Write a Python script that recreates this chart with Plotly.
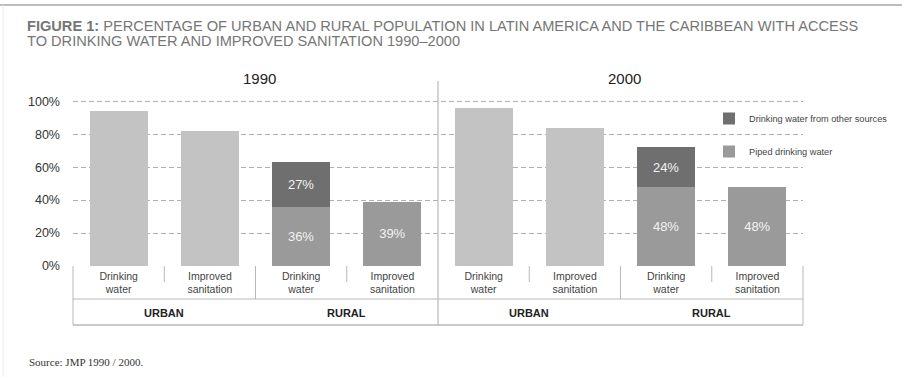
import plotly.graph_objects as go

# ---- data (percent of population) ----
years = ["1990", "2000"]
areas = ["URBAN", "RURAL"]
service_labels = ["Drinking<br>water", "Improved<br>sanitation"]

urban_water = [94, 96]
urban_sanitation = [82, 84]
rural_piped_water = [36, 48]
rural_other_water = [27, 24]
rural_sanitation = [39, 48]

y_ticks = [0, 20, 40, 60, 80, 100]
y_tick_labels = [f"{v}%" for v in y_ticks]

# category slot: year block of 4, area block of 2, service
def slot(year_i, area_i, service_i):
    return year_i * 4 + area_i * 2 + service_i

# ---- colours ----
C_URBAN = "#c3c3c3"
C_PIPED = "#9a9a9a"
C_OTHER = "#6f6f6f"
C_GRID = "#b0b0b0"
C_LINE = "#b8b8b8"

# ---- page geometry (pixels) ----
W, H = 902, 377
L, R, T, B = 73, 99, 93, 111
PW, PH = W - L - R, H - T - B


def py(pix):
    """paper y from a pixel row"""
    return (H - B - pix) / PH


def px(pix):
    """paper x from a pixel column"""
    return (pix - L) / PW


BAR_W = 0.635
fig = go.Figure()

# urban bars
ux, uy = [], []
for i in range(len(years)):
    ux += [slot(i, 0, 0), slot(i, 0, 1)]
    uy += [urban_water[i], urban_sanitation[i]]
fig.add_trace(go.Bar(x=ux, y=uy, width=BAR_W, marker=dict(color=C_URBAN, line=dict(width=0)),
                     showlegend=False, hoverinfo="y"))

value_font = dict(color="#f2f2f2", size=13, family="Liberation Sans, Arial")

# rural piped drinking water (lower stack)
fig.add_trace(go.Bar(
    x=[slot(i, 1, 0) for i in range(len(years))], y=rural_piped_water, width=BAR_W,
    name="Piped drinking water", legendgroup="piped", legendrank=2,
    marker=dict(color=C_PIPED, line=dict(width=0)),
    text=[f"{v}%" for v in rural_piped_water], textposition="inside",
    insidetextanchor="middle", textangle=0, textfont=value_font))

# rural drinking water from other sources (upper stack)
fig.add_trace(go.Bar(
    x=[slot(i, 1, 0) for i in range(len(years))], y=rural_other_water, width=BAR_W,
    name="Drinking water from other sources", legendgroup="other", legendrank=1,
    marker=dict(color=C_OTHER, line=dict(width=0)),
    text=[f"{v}%" for v in rural_other_water], textposition="inside",
    insidetextanchor="middle", textangle=0, textfont=value_font))

# rural improved sanitation
fig.add_trace(go.Bar(
    x=[slot(i, 1, 1) for i in range(len(years))], y=rural_sanitation, width=BAR_W,
    showlegend=False, marker=dict(color=C_PIPED, line=dict(width=0)),
    text=[f"{v}%" for v in rural_sanitation], textposition="inside",
    insidetextanchor="middle", textangle=0, textfont=value_font))

n_slots = 4 * len(years)
tickvals = list(range(n_slots))
ticktext = [service_labels[k % 2] for k in tickvals]

shapes = []
annotations = []

# top frame line
shapes.append(dict(type="line", xref="paper", yref="paper", x0=px(0), x1=px(W),
                   y0=py(5), y1=py(5), line=dict(color="#bdbdbd", width=2), layer="above"))
shapes.append(dict(type="line", xref="paper", yref="paper", x0=px(3), x1=px(3),
                   y0=py(5), y1=py(H), line=dict(color="#ececec", width=1), layer="above"))

# table under the axis
row1_bottom = py(299)
row2_bottom = py(325)
shapes += [
    dict(type="line", xref="paper", yref="paper", x0=0, x1=1, y0=row1_bottom, y1=row1_bottom,
         line=dict(color=C_LINE, width=1)),
    dict(type="line", xref="paper", yref="paper", x0=0, x1=1, y0=row2_bottom, y1=row2_bottom,
         line=dict(color=C_LINE, width=1.5)),
    dict(type="line", xref="paper", yref="paper", x0=0, x1=0, y0=0, y1=row2_bottom,
         line=dict(color=C_LINE, width=1)),
    dict(type="line", xref="paper", yref="paper", x0=1, x1=1, y0=0, y1=row2_bottom,
         line=dict(color=C_LINE, width=1)),
]
for i in range(len(years)):
    for a in range(len(areas)):
        # short divider between the two services
        xs = slot(i, a, 0) + 0.5
        shapes.append(dict(type="line", xref="x", yref="paper", x0=xs, x1=xs,
                           y0=0, y1=py(282), line=dict(color=C_LINE, width=1)))
    # full divider between urban and rural (service row only)
    xa = slot(i, 1, 0) - 0.5
    shapes.append(dict(type="line", xref="x", yref="paper", x0=xa, x1=xa,
                       y0=0, y1=row1_bottom, line=dict(color=C_LINE, width=1)))
# year divider
for i in range(1, len(years)):
    xd = slot(i, 0, 0) - 0.5
    shapes.append(dict(type="line", xref="x", yref="paper", x0=xd, x1=xd,
                       y0=py(81), y1=row2_bottom, line=dict(color=C_LINE, width=1.2)))

# area labels and year headings
for i, yr in enumerate(years):
    annotations.append(dict(text=yr, xref="x", yref="paper", x=slot(i, 0, 0) + 1.5, xshift=4,
                            y=py(78), showarrow=False, xanchor="center", yanchor="middle",
                            font=dict(size=15, color="#222", family="Liberation Sans, Arial")))
    for a, area in enumerate(areas):
        annotations.append(dict(text=f"<b>{area}</b>", xref="x", yref="paper",
                                x=slot(i, a, 0) + 0.5, y=py(312.5), showarrow=False,
                                xanchor="center", yanchor="middle",
                                font=dict(size=11, color="#222", family="Liberation Sans, Arial")))

# figure title
TITLE_C = "#767676"
TITLE_FONT = dict(size=14.6, color=TITLE_C, family="Liberation Sans, Arial")
annotations.append(dict(
    text="<b>FIGURE 1:</b> PERCENTAGE OF URBAN AND RURAL POPULATION IN LATIN AMERICA AND THE CARIBBEAN WITH ACCESS",
    xref="paper", yref="paper", x=px(25), y=py(26), showarrow=False, xanchor="left", yanchor="middle",
    font=TITLE_FONT))
annotations.append(dict(
    text="TO DRINKING WATER AND IMPROVED SANITATION 1990–2000",
    xref="paper", yref="paper", x=px(25), y=py(40.5), showarrow=False, xanchor="left", yanchor="middle",
    font=TITLE_FONT))

# source note
annotations.append(dict(
    text="Source: JMP 1990 / 2000.", xref="paper", yref="paper", x=px(27), y=py(361.5),
    showarrow=False, xanchor="left", yanchor="middle",
    font=dict(size=11, color="#333", family="Liberation Serif, Times New Roman")))

fig.update_layout(
    width=W, height=H,
    margin=dict(l=L, r=R, t=T, b=B, pad=0, autoexpand=False),
    paper_bgcolor="white", plot_bgcolor="white",
    barmode="stack",
    font=dict(family="Liberation Sans, Arial", color="#333"),
    xaxis=dict(range=[-0.5, n_slots - 0.5], tickvals=tickvals, ticktext=ticktext,
               showgrid=False, zeroline=False, showline=False, ticks="",
               tickfont=dict(size=10.5, color="#444"), ticklabelstandoff=2, fixedrange=True),
    yaxis=dict(range=[0, 105], tickvals=y_ticks, ticktext=y_tick_labels,
               showgrid=True, gridcolor=C_GRID, gridwidth=1, griddash="5px,3px",
               zeroline=False, showline=False, ticks="",
               tickfont=dict(size=12.5, color="#333"), ticklabelstandoff=12, fixedrange=True),
    legend=dict(x=px(709), y=py(104), xanchor="left", yanchor="top",
                bgcolor="rgba(0,0,0,0)", font=dict(size=9.2, color="#444"),
                tracegroupgap=14, traceorder="grouped"),
    shapes=shapes,
    annotations=annotations,
)

fig.write_html("out.html")
